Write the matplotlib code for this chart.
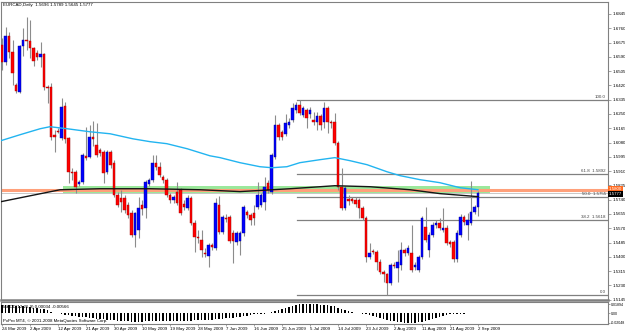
import numpy as np
import matplotlib
matplotlib.use('Agg')
import matplotlib.pyplot as plt
from matplotlib.patches import Rectangle

plt.rcParams['font.family'] = ['Liberation Sans', 'DejaVu Sans']

# EURCAD daily candles, 24 Mar 2009 .. 2 Sep 2009
opens = [1.6661, 1.6560, 1.6714, 1.6619, 1.6423, 1.6382, 1.6655, 1.6690, 1.6685, 1.6643,
         1.6613, 1.6589, 1.6607, 1.6411, 1.6411, 1.6126, 1.6150, 1.6108, 1.6298, 1.6108,
         1.5906, 1.5906, 1.5835, 1.5847, 1.6001, 1.5995, 1.6114, 1.6067, 1.6037, 1.6025,
         1.5906, 1.6025, 1.5960, 1.5770, 1.5752, 1.5752, 1.5710, 1.5663, 1.5532, 1.5562,
         1.5710, 1.5693, 1.5835, 1.5859, 1.5960, 1.5936, 1.5877, 1.5859, 1.5770, 1.5740,
         1.5788, 1.5799, 1.5716, 1.5693, 1.5752, 1.5603, 1.5520, 1.5502, 1.5425, 1.5407,
         1.5473, 1.5455, 1.5710, 1.5550, 1.5633, 1.5639, 1.5544, 1.5491, 1.5497, 1.5544,
         1.5669, 1.5651, 1.5663, 1.5698, 1.5710, 1.5728, 1.5841, 1.5788, 1.5995, 1.6186,
         1.6144, 1.6132, 1.6186, 1.6215, 1.6275, 1.6304, 1.6245, 1.6275, 1.6251, 1.6215,
         1.6203, 1.6239, 1.6203, 1.6287, 1.6203, 1.6203, 1.6079, 1.5817, 1.5693, 1.5746,
         1.5746, 1.5740, 1.5740, 1.5693, 1.5633, 1.5396, 1.5437, 1.5431, 1.5372, 1.5312,
         1.5295, 1.5247, 1.5354, 1.5336, 1.5354, 1.5443, 1.5425, 1.5425, 1.5342, 1.5324,
         1.5396, 1.5580, 1.5443, 1.5532, 1.5592, 1.5603, 1.5562, 1.5574, 1.5491, 1.5491,
         1.5384, 1.5532, 1.5639, 1.5592, 1.5603, 1.5669, 1.5696]
highs = [1.6702, 1.6768, 1.6738, 1.6690, 1.6435, 1.6661, 1.6762, 1.6827, 1.6809, 1.6649,
         1.6631, 1.6679, 1.6613, 1.6423, 1.6435, 1.6156, 1.6168, 1.6346, 1.6322, 1.6114,
         1.5930, 1.5918, 1.5859, 1.6019, 1.6174, 1.6186, 1.6209, 1.6197, 1.6049, 1.6037,
         1.6037, 1.6037, 1.5978, 1.5788, 1.5799, 1.5770, 1.5728, 1.5681, 1.5669, 1.5758,
         1.5740, 1.5859, 1.5871, 1.6007, 1.6007, 1.5966, 1.5889, 1.5871, 1.5782, 1.5770,
         1.5847, 1.5811, 1.5740, 1.5770, 1.5764, 1.5621, 1.5562, 1.5562, 1.5455, 1.5485,
         1.5485, 1.5752, 1.5764, 1.5651, 1.5657, 1.5651, 1.5562, 1.5556, 1.5556, 1.5710,
         1.5681, 1.5663, 1.5710, 1.5847, 1.5782, 1.5877, 1.5859, 1.6019, 1.6245, 1.6197,
         1.6156, 1.6251, 1.6227, 1.6316, 1.6322, 1.6335, 1.6298, 1.6287, 1.6292, 1.6263,
         1.6263, 1.6251, 1.6322, 1.6298, 1.6215, 1.6257, 1.6091, 1.5930, 1.5823, 1.5770,
         1.5758, 1.5758, 1.5752, 1.5704, 1.5645, 1.5485, 1.5449, 1.5443, 1.5384, 1.5324,
         1.5306, 1.5366, 1.5372, 1.5443, 1.5491, 1.5455, 1.5473, 1.5592, 1.5372, 1.5413,
         1.5645, 1.5698, 1.5550, 1.5609, 1.5621, 1.5633, 1.5693, 1.5592, 1.5502, 1.5502,
         1.5562, 1.5657, 1.5651, 1.5663, 1.5853, 1.5710, 1.5789]
lows = [1.6512, 1.6542, 1.6584, 1.6423, 1.6376, 1.6376, 1.6595, 1.6631, 1.6584, 1.6536,
        1.6572, 1.6530, 1.6393, 1.6316, 1.6096, 1.6025, 1.6138, 1.6096, 1.6079, 1.5841,
        1.5859, 1.5782, 1.5823, 1.5835, 1.5978, 1.5990, 1.6061, 1.5995, 1.6001, 1.5841,
        1.5894, 1.5930, 1.5758, 1.5698, 1.5669, 1.5663, 1.5633, 1.5520, 1.5461, 1.5514,
        1.5651, 1.5633, 1.5823, 1.5847, 1.5918, 1.5877, 1.5841, 1.5758, 1.5722, 1.5722,
        1.5710, 1.5651, 1.5681, 1.5681, 1.5592, 1.5431, 1.5485, 1.5396, 1.5396, 1.5342,
        1.5443, 1.5443, 1.5538, 1.5538, 1.5609, 1.5485, 1.5366, 1.5473, 1.5413, 1.5526,
        1.5633, 1.5592, 1.5592, 1.5687, 1.5698, 1.5681, 1.5782, 1.5776, 1.5984, 1.6096,
        1.6096, 1.6120, 1.6168, 1.6203, 1.6257, 1.6245, 1.6233, 1.6168, 1.6227, 1.6186,
        1.6156, 1.6156, 1.6168, 1.6138, 1.6168, 1.6067, 1.5799, 1.5681, 1.5681, 1.5710,
        1.5722, 1.5698, 1.5633, 1.5621, 1.5372, 1.5384, 1.5419, 1.5324, 1.5300, 1.5253,
        1.5175, 1.5235, 1.5336, 1.5253, 1.5324, 1.5407, 1.5413, 1.5312, 1.5324, 1.5312,
        1.5384, 1.5491, 1.5401, 1.5520, 1.5574, 1.5562, 1.5550, 1.5473, 1.5461, 1.5372,
        1.5372, 1.5520, 1.5592, 1.5502, 1.5592, 1.5657, 1.5645]
closes = [1.6560, 1.6714, 1.6619, 1.6494, 1.6388, 1.6655, 1.6690, 1.6685, 1.6643, 1.6566,
          1.6589, 1.6607, 1.6411, 1.6405, 1.6114, 1.6114, 1.6144, 1.6292, 1.6102, 1.5906,
          1.5900, 1.5817, 1.5847, 1.6007, 1.5990, 1.6114, 1.6102, 1.6007, 1.6019, 1.5900,
          1.6025, 1.5948, 1.5770, 1.5710, 1.5728, 1.5681, 1.5651, 1.5532, 1.5663, 1.5693,
          1.5687, 1.5847, 1.5859, 1.5960, 1.5936, 1.5889, 1.5859, 1.5770, 1.5740, 1.5758,
          1.5722, 1.5663, 1.5698, 1.5752, 1.5603, 1.5520, 1.5514, 1.5443, 1.5419, 1.5473,
          1.5461, 1.5722, 1.5550, 1.5639, 1.5627, 1.5497, 1.5497, 1.5544, 1.5544, 1.5698,
          1.5651, 1.5621, 1.5633, 1.5770, 1.5770, 1.5817, 1.5799, 1.6007, 1.6186, 1.6114,
          1.6114, 1.6197, 1.6203, 1.6287, 1.6304, 1.6257, 1.6287, 1.6227, 1.6275, 1.6203,
          1.6239, 1.6186, 1.6287, 1.6203, 1.6197, 1.6079, 1.5817, 1.5693, 1.5811, 1.5734,
          1.5734, 1.5716, 1.5693, 1.5633, 1.5396, 1.5425, 1.5431, 1.5372, 1.5312, 1.5295,
          1.5247, 1.5354, 1.5348, 1.5372, 1.5443, 1.5425, 1.5455, 1.5324, 1.5354, 1.5396,
          1.5633, 1.5502, 1.5532, 1.5592, 1.5603, 1.5574, 1.5574, 1.5485, 1.5479, 1.5384,
          1.5544, 1.5639, 1.5609, 1.5621, 1.5669, 1.5698, 1.5777]

# moving averages, vertices read at bar positions
blue_ma_bar = [-0.3, 5.1, 10.9, 13.7, 18.6, 25.1, 30.9, 37.4, 42.3, 47.1, 52.9, 59.4, 62.3, 68.0,
               73.7, 77.1, 81.4, 85.1, 90.9, 95.1, 99.4, 104.3, 110.0, 113.7, 119.4, 125.1, 130.9, 136.0]
blue_ma_val = [1.6091, 1.6126, 1.6162, 1.6174, 1.6162, 1.6144, 1.6132, 1.6102, 1.6085, 1.6073,
               1.6043, 1.6001, 1.5990, 1.5960, 1.5936, 1.5930, 1.5936, 1.5960, 1.5978, 1.5990,
               1.5972, 1.5948, 1.5906, 1.5883, 1.5859, 1.5841, 1.5811, 1.5799]
black_ma_bar = [-0.3, 16.6, 28.0, 42.3, 56.6, 68.0, 82.3, 90.9, 95.1, 105.1, 116.6, 125.1, 136.0]
black_ma_val = [1.5728, 1.5799, 1.5805, 1.5805, 1.5799, 1.5788, 1.5805, 1.5817, 1.5823, 1.5817,
                1.5799, 1.5776, 1.5758]

# MACD(12,26,9) histogram
macd = [0.0176, 0.0176, 0.0172, 0.0166, 0.0156, 0.0145, 0.0145, 0.0135, 0.0125, 0.0114,
        0.0104, 0.0093, 0.0083, 0.0062,
        0.0031, 0.0010, 0.0010, -0.0010,
        -0.0031, -0.0042, -0.0052, -0.0062, -0.0073, -0.0078, -0.0088, -0.0099, -0.0109, -0.0119,
        -0.0125, -0.0130, -0.0135, -0.0140, -0.0150, -0.0156, -0.0161, -0.0166, -0.0172, -0.0176,
        -0.0176, -0.0176, -0.0176,
        -0.0172, -0.0172, -0.0172, -0.0166, -0.0166, -0.0166, -0.0166, -0.0161, -0.0161, -0.0156,
        -0.0156, -0.0156, -0.0156, -0.0156, -0.0150, -0.0150,
        -0.0145, -0.0140, -0.0140, -0.0135, -0.0130, -0.0125, -0.0114, -0.0109, -0.0104, -0.0093,
        -0.0083, -0.0073, -0.0062, -0.0052, -0.0042, -0.0021, -0.0015, -0.0010, -0.0010,
        0.0010, 0.0021, 0.0052, 0.0073, 0.0093, 0.0114, 0.0135, 0.0156, 0.0176, 0.0187,
        0.0189, 0.0189, 0.0189, 0.0187, 0.0183, 0.0176, 0.0172, 0.0166, 0.0156, 0.0145,
        0.0114, 0.0083, 0.0062, 0.0042, 0.0021, 0.0010, 0.0010, -0.0010,
        -0.0021, -0.0042, -0.0062, -0.0083, -0.0104, -0.0125, -0.0145, -0.0156, -0.0166, -0.0176,
        -0.0187, -0.0197, -0.0205, -0.0205, -0.0197, -0.0187, -0.0176, -0.0166, -0.0145, -0.0125,
        -0.0104, -0.0083, -0.0062, -0.0042, -0.0021, -0.0010, -0.0010, -0.0010, -0.0010, 0.0010,
        0.0010, 0.0010, 0.0010]

date_labels = ['24 Mar 2009', '2 Apr 2009', '12 Apr 2009', '21 Apr 2009', '30 Apr 2009',
               '10 May 2009', '19 May 2009', '28 May 2009', '7 Jun 2009', '16 Jun 2009',
               '25 Jun 2009', '5 Jul 2009', '14 Jul 2009', '23 Jul 2009', '2 Aug 2009',
               '11 Aug 2009', '21 Aug 2009', '2 Sep 2009']
price_ticks = ['1.6845', '1.6760', '1.6675', '1.6590', '1.6505', '1.6420', '1.6335', '1.6250',
               '1.6165', '1.6080', '1.5995', '1.5910', '1.5825', '1.5740', '1.5655', '1.5570',
               '1.5485', '1.5400', '1.5315', '1.5230', '1.5145']
macd_ticks = ['0.01894', '0.00', '-0.02048']

fib_high = 1.6335
fib_low = 1.5175
fib_levels = [100.0, 61.8, 50.0, 38.2, 0.0]
fib_start = 84.3
hline_price = 1.5800
bid_price = 1.5777
zone_top = 1.5823
zone_bottom = 1.5776
zone_start = 17.4
zone_end = 139.4

W, H = 625, 333
fig = plt.figure(figsize=(W / 100, H / 100), dpi=100)
ax = fig.add_axes([1 / W, 33 / H, 607 / W, 298 / H])
ax2 = fig.add_axes([1 / W, 9 / H, 607 / W, 22 / H])
xlim = (-1 / 3.5, 606 / 3.5)
fs = 3.2
grey = '#808080'

# rectangle zone and horizontal lines
ax.add_patch(Rectangle((zone_start, zone_bottom), zone_end - zone_start, zone_top - zone_bottom,
                       facecolor='#9be89b', edgecolor='none', zorder=1))
ax.axhline(hline_price, color='#ffa07a', lw=2.2, zorder=2)
ax.axhline(bid_price, color='#c8c8c8', lw=0.7, zorder=2)

# fibonacci retracement
for lv in fib_levels:
    p = fib_low + (fib_high - fib_low) * lv / 100
    ax.plot([fib_start, xlim[1]], [p, p], color=grey, lw=0.9, zorder=2)
    if lv in (100.0, 0.0):
        txt = '%.1f' % lv
    else:
        txt = '%.1f  %.4f' % (lv, p)
    ax.text(172.5, p + 0.0005, txt, ha='right', va='bottom', fontsize=fs, color='#404040', zorder=6)

# candles
o = np.array(opens)
c = np.array(closes)
x = np.arange(len(o))
up = c >= o
ax.vlines(x, lows, highs, color='#8c8c8c', lw=0.8, zorder=3)
bot = np.minimum(o, c)
hgt = np.maximum(np.abs(c - o), 0.0002)
ax.bar(x[up], hgt[up], bottom=bot[up], width=0.8, color='#0000ff', edgecolor='#00008a', lw=0.3, zorder=4)
ax.bar(x[~up], hgt[~up], bottom=bot[~up], width=0.8, color='#ff0000', edgecolor='#a00000', lw=0.3, zorder=4)

# moving averages
ax.plot(blue_ma_bar, blue_ma_val, color='#22b4f0', lw=1.0, zorder=5)
ax.plot(black_ma_bar, black_ma_val, color='#151515', lw=1.0, zorder=5)

ax.set_xlim(*xlim)
ax.set_ylim(1.5143, 1.6916)
ax.set_xticks([])
ax.yaxis.tick_right()
ax.set_yticks([float(t) for t in price_ticks])
ax.set_yticklabels(price_ticks, fontsize=fs)
ax.tick_params(axis='y', length=2, width=0.5, pad=1.0, color=grey)
for s in ax.spines.values():
    s.set_color(grey)
    s.set_linewidth(0.8)
ax.spines['bottom'].set_linewidth(1.8)

# current price boxes on the price scale
ax.text(1.0015, hline_price + 0.0002, '1.5800', transform=ax.get_yaxis_transform(), ha='left', va='center',
        fontsize=fs, color='white', zorder=7, clip_on=False,
        bbox=dict(boxstyle='square,pad=0.2', fc='#ff6a20', ec='none'))
ax.text(1.0015, bid_price - 0.0005, '1.5777', transform=ax.get_yaxis_transform(), ha='left', va='center',
        fontsize=fs, color='white', zorder=7, clip_on=False,
        bbox=dict(boxstyle='square,pad=0.2', fc='black', ec='none'))

fig.text(3 / W, 1 - 5 / H, 'EURCAD,Daily  1.5696 1.5789 1.5645 1.5777', fontsize=fs,
         ha='left', va='center', color='black')

# MACD window
ax2.bar(np.arange(len(macd)), macd, width=0.45, color='black', zorder=3)
ax2.set_xlim(*xlim)
ax2.set_ylim(-0.02256, 0.02309)
ax2.yaxis.tick_right()
ax2.set_yticks([float(t) for t in macd_ticks])
ax2.set_yticklabels(macd_ticks, fontsize=2.6)
ax2.tick_params(axis='y', length=1.5, width=0.5, pad=0.5, color=grey)
ax2.set_xticks(np.arange(0, len(macd), 8))
ax2.set_xticklabels(date_labels, fontsize=fs, ha='left')
ax2.tick_params(axis='x', length=1.5, width=0.5, pad=0.8, color=grey)
for s in ax2.spines.values():
    s.set_color(grey)
    s.set_linewidth(0.8)
ax2.text(0.004, 0.88, 'MACD(12,26,9) 0.00034 -0.00566', transform=ax2.transAxes,
         fontsize=fs, va='top', ha='left', color='black', zorder=5)
ax2.text(0.004, 0.15, 'PxPro MT4, \u00a9 2001-2008 MetaQuotes Software Corp.', transform=ax2.transAxes,
         fontsize=fs, va='center', ha='left', color='black', zorder=5)

fig.savefig('out.png', dpi=100, facecolor='white')
